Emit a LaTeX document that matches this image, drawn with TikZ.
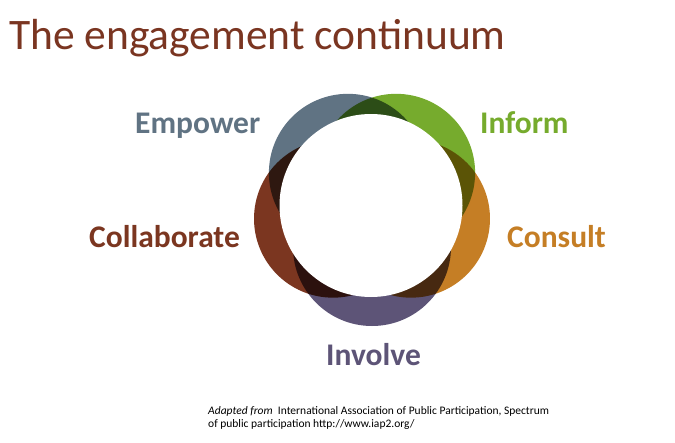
\documentclass[tikz,border=0pt]{standalone}
\usepackage{fontspec}
\setmainfont{Carlito}
\usetikzlibrary{calc}
\definecolor{cEmpower}{HTML}{607383}
\definecolor{cInform}{HTML}{76AB2D}
\definecolor{cConsult}{HTML}{C57E25}
\definecolor{cInvolve}{HTML}{5D5477}
\definecolor{cCollab}{HTML}{7B3620}
\definecolor{cTitle}{HTML}{7A3521}
\tikzset{
  lbl/.style={anchor=base west, inner sep=0pt, font=\fontsize{31.5}{36}\selectfont\bfseries},
  ring/.style={blend mode=multiply},
}
\begin{document}
\begin{tikzpicture}[x=1pt,y=-1pt]
\useasboundingbox (0,0) rectangle (675,442);
\fill[white] (0,0) rectangle (675,442);
\coordinate (c) at (372,206);
\begin{scope}[ring]
  \fill[cEmpower] ($(c)+(-126:41)$) circle (79);
  \fill[cInform]  ($(c)+(-54:41)$) circle (79);
  \fill[cConsult] ($(c)+(18:41)$) circle (79);
  \fill[cInvolve] ($(c)+(90:41)$) circle (79);
  \fill[cCollab]  ($(c)+(162:41)$) circle (79);
\end{scope}
\fill[white] (371,205.5) circle (91.5);
\node[anchor=base west, inner sep=0pt, text=cTitle, font=\fontsize{43.5}{48}\selectfont] (title) at (9,49) {The engagement continuum};
\node[lbl, text=cEmpower] (empower) at (135,133) {Empower};
\node[lbl, text=cInform] (inform) at (480,133) {Inform};
\node[lbl, text=cCollab] (collab) at (89,247) {Collaborate};
\node[lbl, text=cConsult] (consult) at (507,247) {Consult};
\node[lbl, text=cInvolve] (involve) at (326,365) {Involve};
\node[anchor=base west, inner sep=0pt, align=left, font=\fontsize{11.5}{12.5}\selectfont] (src) at (208,427)
  {\textit{Adapted from}\ \ International Association of Public Participation, Spectrum\\of public participation http://www.iap2.org/};
\end{tikzpicture}
\end{document}
